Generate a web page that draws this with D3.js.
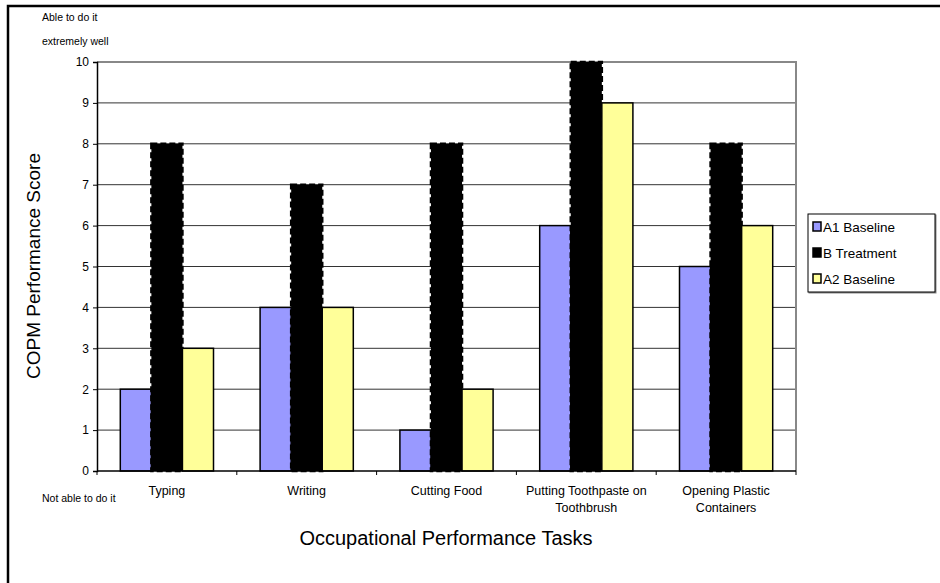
<!DOCTYPE html>
<html>
<head>
<meta charset="utf-8">
<script src="https://cdn.jsdelivr.net/npm/d3@7"></script>
<style>
  html, body { margin: 0; padding: 0; background: #fff; }
  svg { display: block; font-family: Arial, "Liberation Sans", sans-serif; }
</style>
</head>
<body>
<svg id="chart" width="940" height="583"></svg>
<script>
// COPM performance scores per task, across three study phases
const categories = [
  ["Typing"],
  ["Writing"],
  ["Cutting Food"],
  ["Putting Toothpaste on", "Toothbrush"],
  ["Opening Plastic", "Containers"]
];
const seriesNames = ["A1 Baseline", "B Treatment", "A2 Baseline"];
const a1Baseline = [2, 4, 1, 6, 5];
const bTreatment = [8, 7, 8, 10, 8];
const a2Baseline = [3, 4, 2, 9, 6];
const yTicks = [0, 1, 2, 3, 4, 5, 6, 7, 8, 9, 10];

const seriesValues = [a1Baseline, bTreatment, a2Baseline];
const fills = ["#9999FF", "#000000", "#FFFF99"];

const svg = d3.select("#chart");

// outer chart frame (runs past the right and bottom edges)
svg.append("rect")
  .attr("x", 8).attr("y", 6).attr("width", 960).attr("height", 620)
  .attr("fill", "none").attr("stroke", "#000").attr("stroke-width", 2.5);

const plot = { left: 97, right: 796, top: 62, bottom: 471 };

const x = d3.scaleBand()
  .domain(d3.range(categories.length))
  .range([plot.left, plot.right]);

const barW = x.bandwidth() / 4.5;

const xs = d3.scaleBand()
  .domain(d3.range(seriesNames.length))
  .range([0, barW * 3]);

const y = d3.scaleLinear().domain([0, 10]).range([plot.bottom, plot.top]);

// horizontal gridlines
svg.append("g")
  .selectAll("line")
  .data(yTicks.filter(t => t > 0 && t < 10))
  .join("line")
  .attr("x1", plot.left).attr("x2", plot.right)
  .attr("y1", d => y(d)).attr("y2", d => y(d))
  .attr("stroke", "#333").attr("stroke-width", 1);

// plot area top and right edges
svg.append("path")
  .attr("d", `M${plot.left},${y(10)}H${plot.right}V${plot.bottom}`)
  .attr("fill", "none").attr("stroke", "#888").attr("stroke-width", 2);

// bars
const groups = svg.append("g").selectAll("g")
  .data(categories.map((c, i) => i))
  .join("g")
  .attr("transform", i => `translate(${x(i) + (x.bandwidth() - barW * 3) / 2},0)`);

groups.selectAll("rect")
  .data(i => seriesValues.map((vals, s) => ({ s, v: vals[i] })))
  .join("rect")
  .attr("x", d => xs(d.s))
  .attr("width", xs.bandwidth())
  .attr("y", d => y(d.v))
  .attr("height", d => y(0) - y(d.v))
  .attr("fill", d => fills[d.s])
  .attr("stroke", "#000")
  .attr("stroke-width", d => d.s === 1 ? 2.5 : 1.5)
  .attr("stroke-dasharray", d => d.s === 1 ? "6,3" : null);

// y axis
const yAxis = svg.append("g")
  .attr("transform", `translate(${plot.left},0)`)
  .call(d3.axisLeft(y).tickValues(yTicks).tickSize(4).tickPadding(4).tickFormat(d3.format("d")));
yAxis.select(".domain").attr("stroke", "#000").attr("stroke-width", 1.5);
yAxis.selectAll(".tick line").attr("stroke", "#000");
yAxis.selectAll("text").attr("font-size", 12).attr("fill", "#000")
  .attr("font-family", "Arial, 'Liberation Sans', sans-serif");

// x axis
const xAxis = svg.append("g")
  .attr("transform", `translate(0,${plot.bottom})`);
xAxis.append("line")
  .attr("x1", plot.left).attr("x2", plot.right)
  .attr("stroke", "#000").attr("stroke-width", 1.5);
const tickXs = d3.range(categories.length + 1).map(i => plot.left + i * x.step());
xAxis.selectAll(".tk").data(tickXs).join("line").attr("class", "tk")
  .attr("x1", d => d).attr("x2", d => d).attr("y1", 0).attr("y2", 4)
  .attr("stroke", "#000");
xAxis.selectAll(".cat").data(categories).join("text").attr("class", "cat")
  .attr("x", (d, i) => x(i) + x.bandwidth() / 2)
  .attr("y", 24)
  .attr("text-anchor", "middle")
  .attr("font-size", 12.5)
  .each(function (lines) {
    d3.select(this).selectAll("tspan").data(lines).join("tspan")
      .attr("x", d3.select(this).attr("x"))
      .attr("dy", (l, k) => k === 0 ? 0 : 17)
      .text(l => l);
  });

// scale annotations
svg.append("text").attr("x", 42).attr("y", 21).attr("font-size", 10.5).text("Able to do it");
svg.append("text").attr("x", 42).attr("y", 45).attr("font-size", 10.5).text("extremely well");
svg.append("text").attr("x", 42).attr("y", 502).attr("font-size", 10.5).text("Not able to do it");

// axis titles
svg.append("text")
  .attr("x", 446).attr("y", 545)
  .attr("text-anchor", "middle").attr("font-size", 20)
  .text("Occupational Performance Tasks");
svg.append("text")
  .attr("transform", "translate(40,266) rotate(-90)")
  .attr("text-anchor", "middle").attr("font-size", 19)
  .text("COPM Performance Score");

// legend
const lg = svg.append("g").attr("transform", "translate(808,214)");
lg.append("rect").attr("width", 127).attr("height", 78)
  .attr("fill", "#fff").attr("stroke", "#000").attr("stroke-width", 1)
  .style("filter", "drop-shadow(1.5px 1.5px 0 #888)");
const items = lg.selectAll("g").data(seriesNames).join("g")
  .attr("transform", (d, i) => `translate(5,${13 + i * 26})`);
items.append("rect").attr("x", 0).attr("y", -5).attr("width", 8).attr("height", 9)
  .attr("fill", (d, i) => fills[i]).attr("stroke", "#000").attr("stroke-width", 1.5);
items.append("text").attr("x", 10).attr("y", 5).attr("font-size", 13.5).text(d => d);
</script>
</body>
</html>
